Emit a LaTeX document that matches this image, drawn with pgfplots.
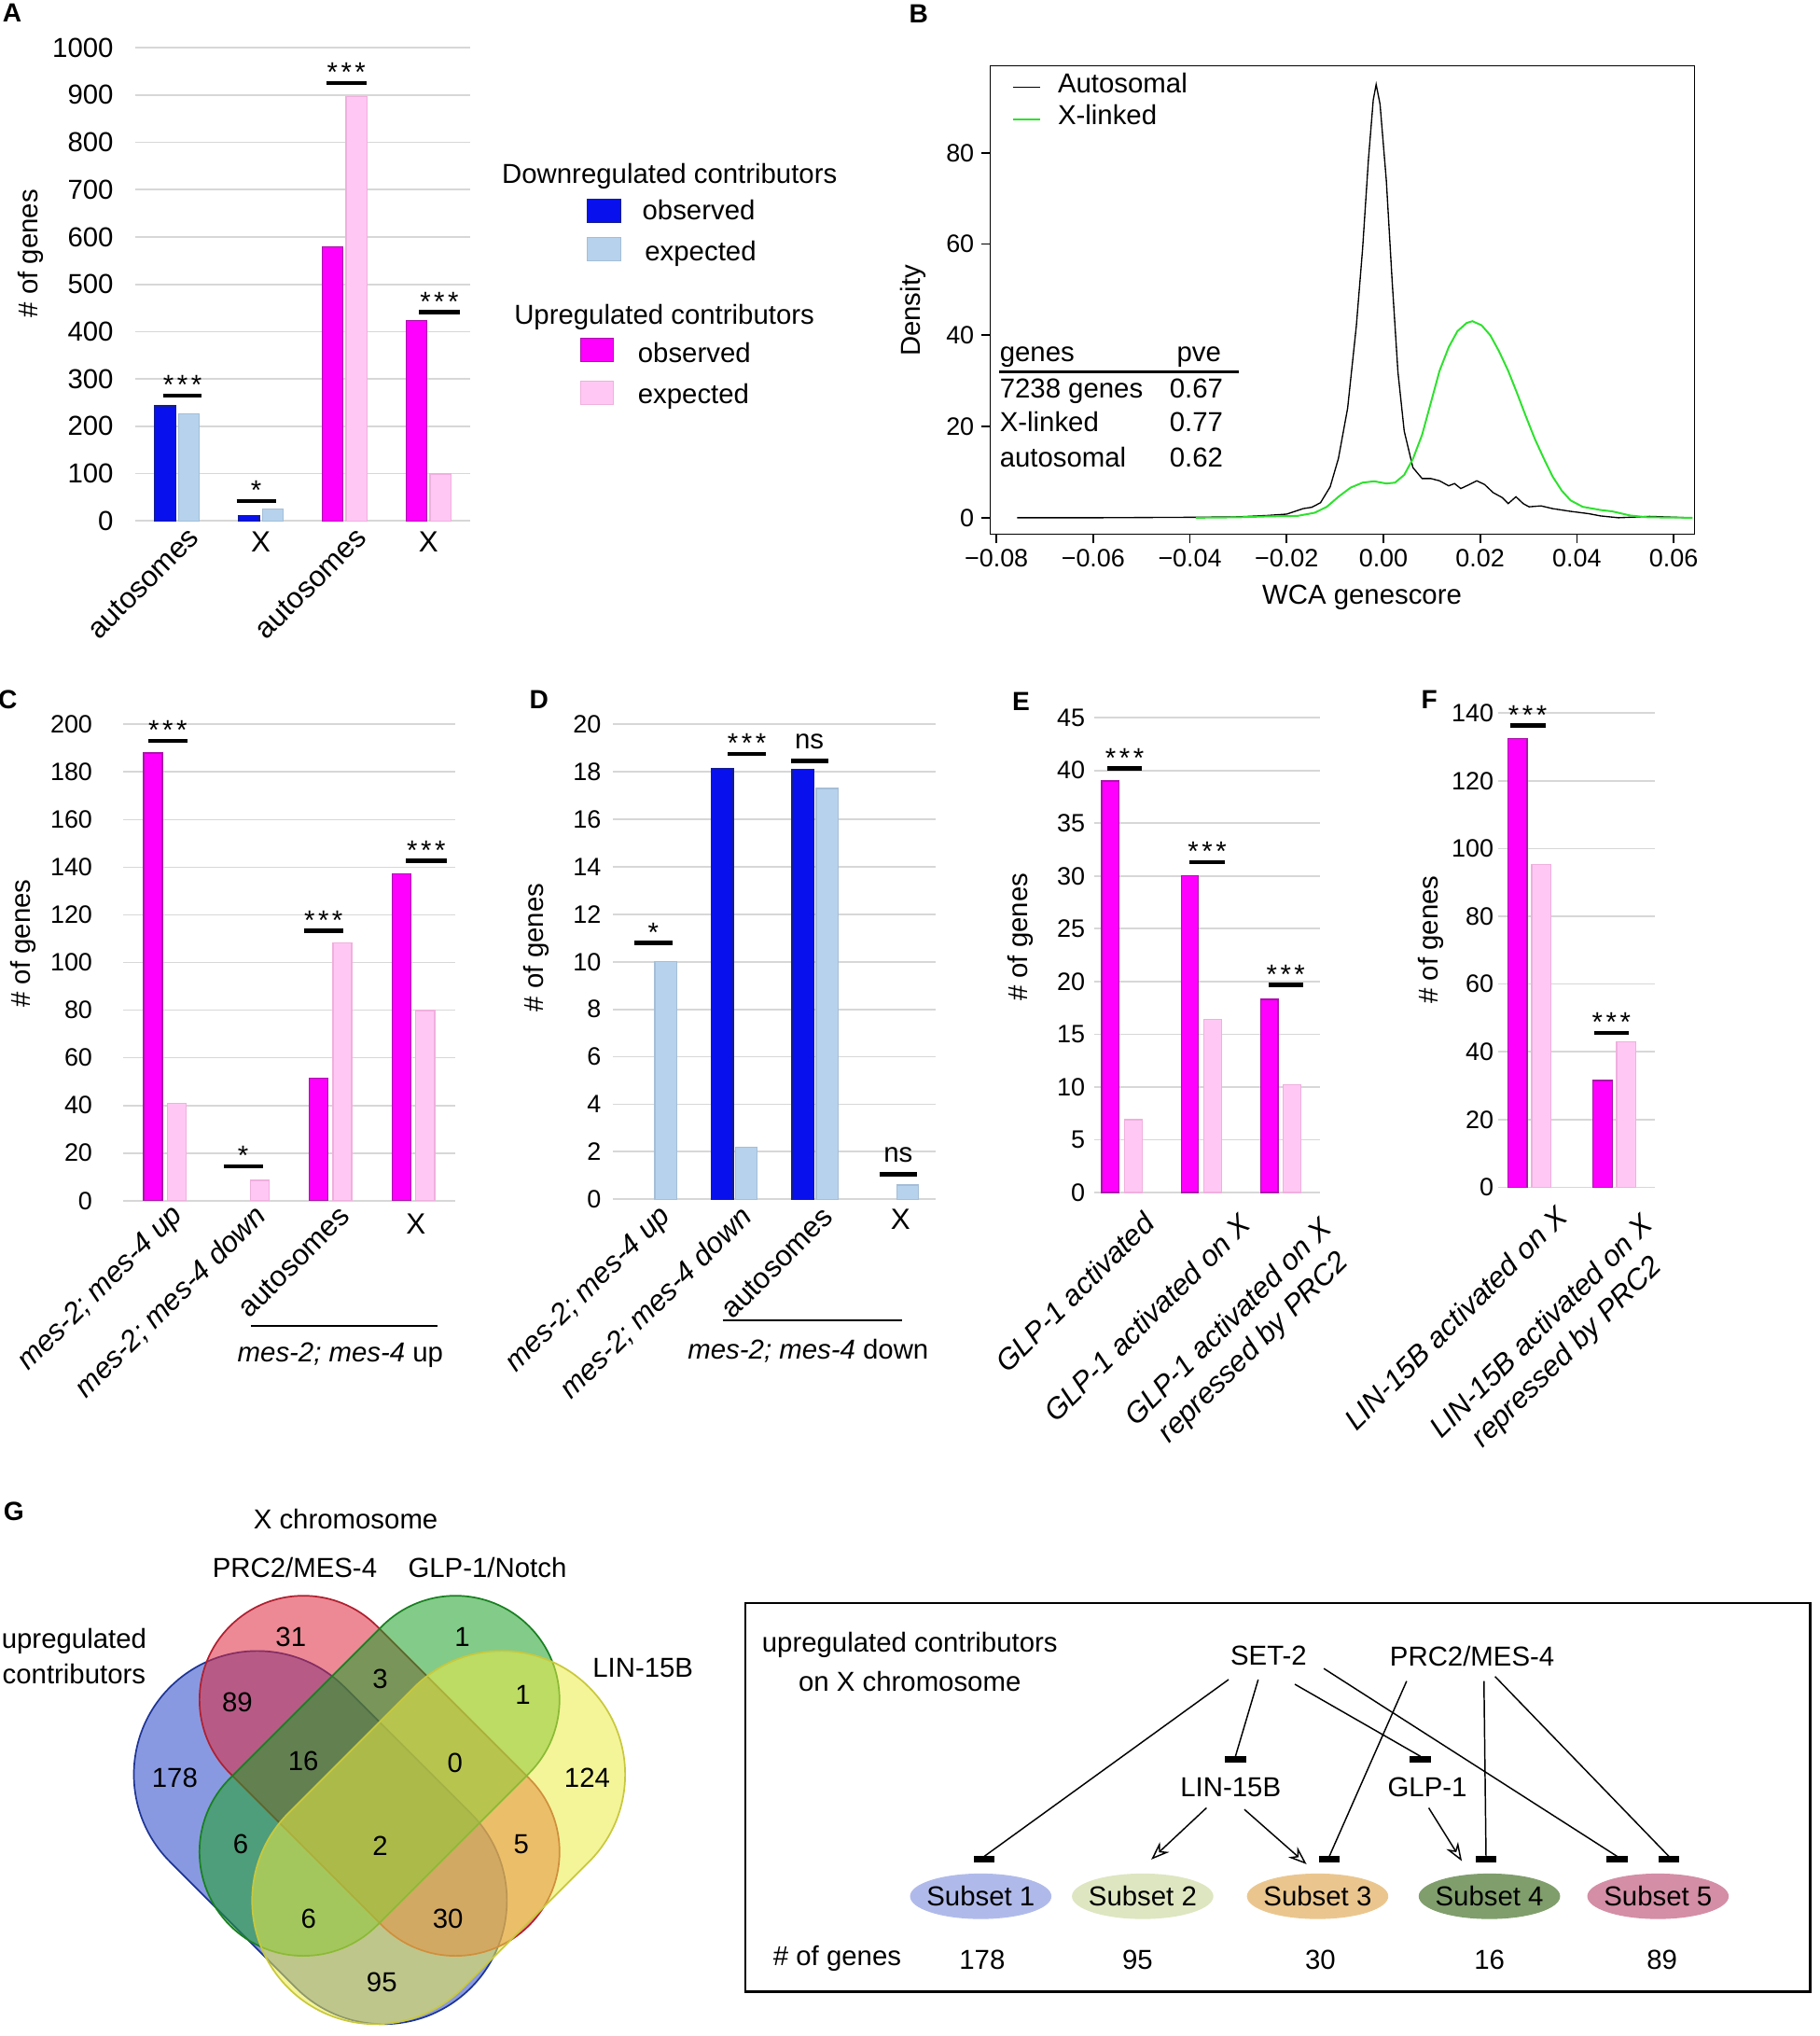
\documentclass[border=0pt]{standalone}
\usepackage{fontspec}
\setmainfont{Liberation Sans}
\usepackage{pgfplots}
\pgfplotsset{compat=1.18}
\usetikzlibrary{arrows.meta}

\definecolor{obsBc}{RGB}{8,16,238}
\definecolor{obsBd}{RGB}{20,30,140}
\definecolor{expBc}{RGB}{182,210,236}
\definecolor{expBd}{RGB}{165,190,215}
\definecolor{obsMc}{RGB}{255,0,255}
\definecolor{obsMd}{RGB}{170,20,170}
\definecolor{expMc}{RGB}{255,200,244}
\definecolor{expMd}{RGB}{240,175,222}
\definecolor{gridc}{RGB}{215,215,215}
\definecolor{xlink}{RGB}{45,225,45}
\definecolor{vblue}{RGB}{40,70,200}
\definecolor{vred}{RGB}{220,40,60}
\definecolor{vgreen}{RGB}{30,160,40}
\definecolor{vyellow}{RGB}{235,235,70}
\definecolor{sOne}{RGB}{176,186,234}
\definecolor{sTwo}{RGB}{221,230,192}
\definecolor{sThree}{RGB}{234,198,142}
\definecolor{sFour}{RGB}{128,158,108}
\definecolor{sFive}{RGB}{212,142,166}

\newcommand{\tw}{\fontsize{12}{14.4}\selectfont}
\newcommand{\tl}{\fontsize{12.8}{15.4}\selectfont}
\newcommand{\el}{\fontsize{11}{13.2}\selectfont}
\newcommand{\pl}{\fontsize{11.5}{13}\selectfont\bfseries}
\newcommand{\stars}{*\hspace{0.12em}*\hspace{0.12em}*}
% significance bar: x1, x2, y, text, lift
\newcommand{\sig}[5]{\draw[line width=1.9pt] (axis cs:#1,#3) -- (axis cs:#2,#3) node[midway, anchor=base, inner sep=0pt, yshift=#5, font=\tw] {#4};}
% rotated category label: x, xshift, yshift, text
\newcommand{\rlab}[4]{\node[xshift=#2, yshift=#3, rotate=45, anchor=north east, inner sep=0pt, align=center, font=\tl\itshape] at (axis cs:#1,0) {#4};}
% capsule: fill, draw, x, y, angle, length, radius
\newcommand{\capsule}[7]{\filldraw[fill=#1, fill opacity=0.55, draw=#2, line width=0.7pt] (#3,#4) ++(#5-90:#7) -- ++(#5:#6) arc[start angle=#5-90, delta angle=180, radius=#7] -- ++(#5+180:#6) arc[start angle=#5+90, delta angle=180, radius=#7] -- cycle;}
\newcommand{\tbar}[2]{\fill (#1-8,#2-2.5) rectangle (#1+8,#2+2.5);}

\pgfplotsset{
  /pgf/number format/assume math mode=true,
  /pgf/number format/1000 sep={},
  barchart/.style={
    scale only axis, anchor=north west, clip=false,
    axis line style={draw=none}, major tick length=0pt,
    ymajorgrids, grid style={draw=gridc, line width=0.7pt},
    ymin=0,
    tick label style={font=\el},
    yticklabel style={anchor=east, inner sep=0pt},
    xticklabel style={inner sep=0pt, font=\tl, align=center},
    ylabel={\# of genes},
    ylabel style={font=\tw, anchor=center},
  },
  barOB/.style={ybar, fill=obsBc, draw=obsBd, line width=0.5pt},
  barEB/.style={ybar, fill=expBc, draw=expBd, line width=0.5pt},
  barOM/.style={ybar, fill=obsMc, draw=obsMd, line width=0.5pt},
  barEM/.style={ybar, fill=expMc, draw=expMd, line width=0.5pt},
}

\begin{document}
\begin{tikzpicture}
\path[use as bounding box] (0,0) rectangle (28cm,-31.33cm);

\node[font=\pl] at (0.186cm,-0.2cm) {A};
\node[font=\pl] at (14.14cm,-0.22cm) {B};
\node[font=\pl] at (0.12cm,-10.764cm) {C};
\node[font=\pl] at (8.296cm,-10.76cm) {D};
\node[font=\pl] at (15.714cm,-10.8cm) {E};
\node[font=\pl] at (22.0cm,-10.77cm) {F};
\node[font=\pl] at (0.214cm,-23.26cm) {G};

% ---------------- A
\begin{axis}[barchart, at={(2.08cm,-0.734cm)}, width=5.16cm, height=7.282cm,
  xmin=-0.5, xmax=3.5, ymax=1000, ytick={0,100,...,1000}, xtick={0,1,2,3},
  yticklabel style={font=\tw, xshift=-0.328cm},
  xticklabels={autosomes,,autosomes,},
  xticklabel style={xshift=0.26cm, yshift=-0.18cm, rotate=45, anchor=east},
  ylabel style={at={(axis description cs:-0.312,0.565)}}]
\addplot[barOB, bar width=0.25, bar shift=-0.143] coordinates {(0,243) (1,12)};
\addplot[barEB, bar width=0.25, bar shift=0.143] coordinates {(0,227) (1,25)};
\addplot[barOM, bar width=0.25, bar shift=-0.143] coordinates {(2,579) (3,424)};
\addplot[barEM, bar width=0.25, bar shift=0.143] coordinates {(2,897) (3,99)};
\sig{-0.16}{0.29}{265}{\stars}{0.5pt}
\sig{0.71}{1.18}{42}{*}{0.5pt}
\sig{1.78}{2.26}{925}{\stars}{0.5pt}
\sig{2.89}{3.37}{441}{\stars}{0.5pt}
\node[font=\tl] at (axis cs:1,-44) {X};
\node[font=\tl] at (axis cs:3,-44) {X};
\end{axis}

% legend of A
\node[font=\tw, anchor=base west, inner sep=0pt] at (7.72cm,-2.826cm) {Downregulated contributors};
\filldraw[fill=obsBc, draw=obsBd] (9.04cm,-3.06cm) rectangle (9.56cm,-3.42cm);
\node[font=\tw, anchor=base west, inner sep=0pt] at (9.88cm,-3.382cm) {observed};
\filldraw[fill=expBc, draw=expBd] (9.04cm,-3.66cm) rectangle (9.56cm,-4.02cm);
\node[font=\tw, anchor=base west, inner sep=0pt] at (9.92cm,-4.02cm) {expected};
\node[font=\tw, anchor=base west, inner sep=0pt] at (7.908cm,-4.992cm) {Upregulated contributors};
\filldraw[fill=obsMc, draw=obsMd] (8.936cm,-5.2cm) rectangle (9.444cm,-5.56cm);
\node[font=\tw, anchor=base west, inner sep=0pt] at (9.812cm,-5.576cm) {observed};
\filldraw[fill=expMc, draw=expMd] (8.936cm,-5.86cm) rectangle (9.444cm,-6.22cm);
\node[font=\tw, anchor=base west, inner sep=0pt] at (9.812cm,-6.212cm) {expected};

% ---------------- B
\begin{axis}[scale only axis, anchor=north west, at={(15.24cm,-1.012cm)},
  width=10.84cm, height=7.208cm,
  xmin=-0.0813, xmax=0.0643, ymin=-3.6, ymax=99.1,
  scaled x ticks=false,
  xtick={-0.08,-0.06,-0.04,-0.02,0,0.02,0.04,0.06},
  xticklabels={−0.08,−0.06,−0.04,−0.02,0.00,0.02,0.04,0.06},
  ytick={0,20,40,60,80},
  tick align=outside, major tick length=0.14cm, tick pos=left,
  axis line style={line width=0.7pt}, tick style={line width=0.7pt, black},
  tick label style={font=\el},
  yticklabel style={inner sep=0pt, anchor=east, xshift=-0.10cm},
  xticklabel style={inner sep=0pt, anchor=north, yshift=-0.08cm},
  xlabel={WCA genescore}, ylabel={Density}, label style={font=\tw},
  xlabel style={at={(axis description cs:0.528,-0.136)}, anchor=center},
  ylabel style={at={(axis description cs:-0.109,0.477)}, anchor=center},
  legend style={at={(axis cs:-0.0769,98.0)}, anchor=north west, draw=none, fill=none,
    inner sep=0pt, font=\tw, column sep=0.26cm, row sep=0pt,
    nodes={inner sep=0pt, text height=9.5pt, text depth=4.5pt, anchor=west}},
  legend cell align=left,
  legend image code/.code={\draw[#1] (0cm,0cm) -- (0.42cm,0cm);},
]
\addplot[black, line width=0.55pt] coordinates {
(-0.0757,0) (-0.06,0) (-0.04,0.1) (-0.03,0.2) (-0.024,0.5) (-0.02,0.8)
(-0.0166,2) (-0.0148,2.3) (-0.013,3.3) (-0.011,6.8) (-0.0093,13) (-0.0074,24)
(-0.0056,42) (-0.0043,59) (-0.0031,78.5) (-0.0021,91.6) (-0.0015,95) (-0.0007,90.7)
(0.0006,74) (0.0018,52) (0.003,32) (0.0043,19) (0.0061,11) (0.008,8.6)
(0.0098,8.6) (0.0116,8.1) (0.0135,7) (0.0147,7.5) (0.016,6.4) (0.0178,7.3)
(0.0193,8.1) (0.0209,7.3) (0.0227,5.5) (0.0246,4.4) (0.0258,3.1) (0.0274,4.6)
(0.0289,3.1) (0.0301,2.4) (0.0326,2.6) (0.035,2) (0.0387,1.4) (0.0424,0.9)
(0.0449,0.4) (0.0486,0) (0.055,0.3) (0.0633,0)};
\addlegendentry{Autosomal}
\addplot[xlink, line width=0.8pt] coordinates {
(-0.0388,0) (-0.03,0.1) (-0.024,0.3) (-0.0178,0.4) (-0.0142,1.1) (-0.0117,2.4)
(-0.0093,4.6) (-0.0068,6.6) (-0.0043,7.7) (-0.0019,8) (0.0006,7.5) (0.0024,7.7)
(0.0043,9.4) (0.0061,12.9) (0.008,18.2) (0.0098,25.2) (0.0116,32.2) (0.0135,37.4)
(0.0153,40.9) (0.0172,42.7) (0.0184,43.1) (0.0203,42.2) (0.0221,40) (0.0239,36.5)
(0.0258,32.2) (0.0276,27.4) (0.0295,22.1) (0.0313,17.3) (0.0332,12.9) (0.035,9)
(0.0369,5.9) (0.0387,3.8) (0.0412,2.4) (0.0449,1.7) (0.0473,1.4) (0.051,0.5)
(0.0547,0.1) (0.0639,0)};
\addlegendentry{X-linked}
\node[font=\tw, anchor=base west, inner sep=0pt] at (axis cs:-0.0794,34.2) {genes};
\node[font=\tw, anchor=base west, inner sep=0pt] at (axis cs:-0.0428,34.2) {pve};
\draw[line width=1pt] (axis cs:-0.0794,32.0) -- (axis cs:-0.0299,32.0);
\node[font=\tw, anchor=base west, inner sep=0pt] at (axis cs:-0.0794,26.3) {7238 genes};
\node[font=\tw, anchor=base west, inner sep=0pt] at (axis cs:-0.0443,26.3) {0.67};
\node[font=\tw, anchor=base west, inner sep=0pt] at (axis cs:-0.0794,18.8) {X-linked};
\node[font=\tw, anchor=base west, inner sep=0pt] at (axis cs:-0.0443,18.8) {0.77};
\node[font=\tw, anchor=base west, inner sep=0pt] at (axis cs:-0.0794,11.2) {autosomal};
\node[font=\tw, anchor=base west, inner sep=0pt] at (axis cs:-0.0443,11.2) {0.62};
\end{axis}

% ---------------- C
\begin{axis}[barchart, at={(1.9cm,-11.146cm)}, width=5.1cm, height=7.33cm,
  xmin=-0.5, xmax=3.5, ymax=200, ytick={0,20,...,200}, xtick={0,1,2,3},
  yticklabel style={xshift=-0.472cm},
  xticklabels={\textit{mes-2; mes-4 up},\textit{mes-2; mes-4 down},autosomes,},
  xticklabel style={xshift=0.22cm, yshift=-0.16cm, rotate=45, anchor=east},
  ylabel style={at={(axis description cs:-0.302,0.54)}}]
\addplot[barOM, bar width=0.227, bar shift=-0.143] coordinates {(0,188) (2,51.5) (3,137.3)};
\addplot[barEM, bar width=0.227, bar shift=0.143] coordinates {(0,41) (1,8.5) (2,108.3) (3,79.8)};
\sig{-0.2}{0.27}{193}{\stars}{0.5pt}
\sig{0.71}{1.18}{14.4}{*}{0.5pt}
\sig{1.68}{2.15}{113.4}{\stars}{0.5pt}
\sig{2.91}{3.4}{142.6}{\stars}{0.5pt}
\node[font=\tl] at (axis cs:3.03,-9.8) {X};
\draw[line width=0.8pt] (axis cs:1.037,-52.5) -- (axis cs:3.296,-52.5);
\node[font=\tw] at (axis cs:2.119,-64.9) {\textit{mes-2; mes-4} up};
\end{axis}

% ---------------- D
\begin{axis}[barchart, at={(9.44cm,-11.146cm)}, width=4.968cm, height=7.308cm,
  xmin=-0.5, xmax=3.5, ymax=20, ytick={0,2,...,20}, xtick={0,1,2,3},
  yticklabel style={xshift=-0.18cm},
  xticklabels={\textit{mes-2; mes-4 up},\textit{mes-2; mes-4 down},autosomes,},
  xticklabel style={xshift=0.2cm, yshift=-0.2cm, rotate=45, anchor=east},
  ylabel style={at={(axis description cs:-0.24,0.53)}}]
\addplot[barOB, bar width=0.27, bar shift=-0.15] coordinates {(1,18.15) (2,18.1)};
\addplot[barEB, bar width=0.27, bar shift=0.15] coordinates {(0,10) (1,2.2) (2,17.3) (3,0.6)};
\sig{-0.24}{0.23}{10.8}{*}{0.5pt}
\sig{0.92}{1.39}{18.76}{\stars}{0.5pt}
\sig{1.7}{2.16}{18.46}{ns}{5.4pt}
\sig{2.8}{3.26}{1.05}{ns}{5.4pt}
\node[font=\tl] at (axis cs:3.06,-0.85) {X};
\draw[line width=0.8pt] (axis cs:0.857,-5.08) -- (axis cs:3.075,-5.08);
\node[font=\tw] at (axis cs:1.915,-6.37) {\textit{mes-2; mes-4} down};
\end{axis}

% ---------------- E
\begin{axis}[barchart, at={(16.84cm,-11.044cm)}, width=3.48cm, height=7.306cm,
  xmin=-0.35, xmax=2.5, ymax=45, ytick={0,5,...,45}, xtick=\empty,
  yticklabel style={xshift=-0.134cm},
  ylabel style={at={(axis description cs:-0.324,0.538)}}]
\addplot[barOM, bar width=0.22, bar shift=-0.143] coordinates {(0,39) (1,30) (2,18.3)};
\addplot[barEM, bar width=0.22, bar shift=0.143] coordinates {(0,6.9) (1,16.4) (2,10.2)};
\sig{-0.18}{0.25}{40.2}{\stars}{0.5pt}
\sig{0.85}{1.3}{31.3}{\stars}{0.5pt}
\sig{1.85}{2.28}{19.7}{\stars}{0.5pt}
\rlab{0}{0.30cm}{-0.268cm}{GLP-1 activated}
\rlab{1}{0.56cm}{-0.29cm}{GLP-1 activated on X}
\rlab{2}{0.58cm}{-0.34cm}{GLP-1 activated on X\\repressed by PRC2}
\end{axis}

% ---------------- F
\begin{axis}[barchart, at={(23.056cm,-10.972cm)}, width=2.42cm, height=7.298cm,
  xmin=-0.37, xmax=1.48, ymax=140, ytick={0,20,...,140}, xtick=\empty,
  yticklabel style={xshift=-0.06cm},
  ylabel style={at={(axis description cs:-0.428,0.522)}}]
\addplot[barOM, bar width=0.227, bar shift=-0.14] coordinates {(0,132.4) (1,31.5)};
\addplot[barEM, bar width=0.227, bar shift=0.14] coordinates {(0,95.3) (1,42.9)};
\sig{-0.23}{0.19}{136.3}{\stars}{0.5pt}
\sig{0.76}{1.17}{45.6}{\stars}{0.5pt}
\rlab{0}{0.38cm}{-0.25cm}{LIN-15B activated on X}
\rlab{1}{0.39cm}{-0.37cm}{LIN-15B activated on X\\repressed by PRC2}
\end{axis}

% ---------------- G
\begin{scope}[x=0.02cm, y=-0.02cm]
\capsule{vblue}{vblue!75!black}{198}{1365}{45}{137.2}{95}
\capsule{vred}{vred!80!black}{233.5}{1307.5}{45}{165.5}{80}
\capsule{vgreen}{vgreen!80!black}{350.5}{1307.5}{135}{165.5}{80}
\capsule{vyellow}{vyellow!85!black}{386}{1365}{135}{137.2}{95}
\node[font=\tw] at (266,1168.5) {X chromosome};
\node[font=\tw] at (226.8,1205.7) {PRC2/MES-4};
\node[font=\tw] at (375,1205.7) {GLP-1/Notch};
\node[font=\tw] at (57,1262.8) {upregulated};
\node[font=\tw] at (57,1288) {contributors};
\node[font=\tw] at (494.7,1282.7) {LIN-15B};
\node[font=\tw] at (223.8,1259.6) {31};
\node[font=\tw] at (355.6,1259.6) {1};
\node[font=\tw] at (182.6,1309.5) {89};
\node[font=\tw] at (292.5,1291.6) {3};
\node[font=\tw] at (402.3,1303.5) {1};
\node[font=\tw] at (134.5,1367.6) {178};
\node[font=\tw] at (233.4,1354.6) {16};
\node[font=\tw] at (350.1,1355.8) {0};
\node[font=\tw] at (451.8,1367.7) {124};
\node[font=\tw] at (185.3,1418.8) {6};
\node[font=\tw] at (292.5,1420) {2};
\node[font=\tw] at (401,1418.8) {5};
\node[font=\tw] at (237.5,1475.9) {6};
\node[font=\tw] at (344.7,1475.9) {30};
\node[font=\tw] at (293.8,1524.6) {95};

% regulatory diagram
\draw[line width=1pt] (573.6,1233) rectangle (1392.7,1532);
\node[font=\tw] at (700,1265.5) {upregulated contributors};
\node[font=\tw] at (700,1293.2) {on X chromosome};
\node[font=\tw] at (976.1,1273.9) {SET-2};
\node[font=\tw] at (1132.7,1273.9) {PRC2/MES-4};
\node[font=\tw] at (946.9,1375) {LIN-15B};
\node[font=\tw] at (1098.2,1375) {GLP-1};
\begin{scope}[line width=0.6pt]
\draw (945.3,1292) -- (757.3,1428);
\draw (968.1,1292) -- (950.6,1351);
\draw (996.3,1295.6) -- (1092.9,1351);
\draw (1018.6,1283.5) -- (1244.3,1428);
\draw (1082.3,1293.2) -- (1022.8,1428);
\draw (1141.8,1293.2) -- (1143.4,1428);
\draw (1150.3,1289.6) -- (1284.1,1428);
\draw[-{Stealth[open, length=8pt, width=6pt]}] (928.3,1390.7) -- (885.8,1430.4);
\draw[-{Stealth[open, length=8pt, width=6pt]}] (957.5,1391.9) -- (1005.3,1434);
\draw[-{Stealth[open, length=8pt, width=6pt]}] (1099.3,1390.7) -- (1124.8,1431.6);
\end{scope}
\tbar{950.6}{1353.4}
\tbar{1092.9}{1353.4}
\tbar{757.3}{1430.4}
\tbar{1022.8}{1430.4}
\tbar{1143.4}{1430.4}
\tbar{1244.3}{1430.4}
\tbar{1284.1}{1430.4}
\fill[sOne] (754.6,1458.7) ellipse [x radius=54.4, y radius=17.5];
\fill[sTwo] (879.2,1458.7) ellipse [x radius=54.4, y radius=17.5];
\fill[sThree] (1013.8,1458.7) ellipse [x radius=54.4, y radius=17.5];
\fill[sFour] (1146,1458.7) ellipse [x radius=54.4, y radius=17.5];
\fill[sFive] (1275.7,1458.7) ellipse [x radius=54.4, y radius=17.5];
\node[font=\tw] at (754.6,1458.7) {Subset 1};
\node[font=\tw] at (879.2,1458.7) {Subset 2};
\node[font=\tw] at (1013.8,1458.7) {Subset 3};
\node[font=\tw] at (1146,1458.7) {Subset 4};
\node[font=\tw] at (1275.7,1458.7) {Subset 5};
\node[font=\tw] at (644.2,1506.2) {\# of genes};
\node[font=\tw] at (755.7,1507.5) {178};
\node[font=\tw] at (875.2,1507.5) {95};
\node[font=\tw] at (1015.9,1507.5) {30};
\node[font=\tw] at (1146,1507.5) {16};
\node[font=\tw] at (1278.8,1507.5) {89};
\end{scope}
\end{tikzpicture}
\end{document}
